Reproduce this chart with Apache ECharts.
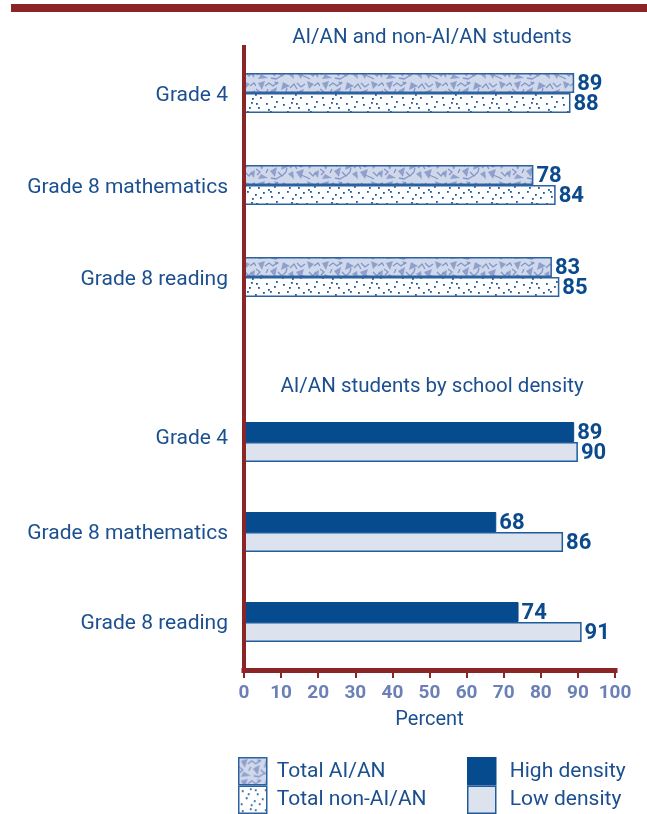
<!DOCTYPE html>
<html>
<head>
<meta charset="utf-8">
<script src="https://cdn.jsdelivr.net/npm/echarts@6/dist/echarts.min.js"></script>
<style>
  html, body { margin: 0; padding: 0; background: #fff; }
  #chart { width: 647px; height: 814px; }
</style>
</head>
<body>
<div id="chart"></div>
<script>
// ---- data ----
const categories = ['Grade 4', 'Grade 8 mathematics', 'Grade 8 reading'];
const totalAian = [89, 78, 83];
const totalNonAian = [88, 84, 85];
const highDensity = [89, 68, 74];
const lowDensity = [90, 86, 91];
const percentMin = 0;
const percentMax = 100;
const percentStep = 10;
const seriesNames = ['Total AI/AN', 'Total non-AI/AN', 'High density', 'Low density'];
const panelTitles = ['AI/AN and non-AI/AN students', 'AI/AN students by school density'];

// ---- styling ----
const FONT = 'Roboto';
const NAVY = '#0B4A8C';
const TEXT = '#1B4F8F';
const AXIS_RED = '#8B2527';
const TICK_TEXT = '#6B80B6';

// mottled light-blue texture
function makeMottle() {
  const c = document.createElement('canvas');
  c.width = 64; c.height = 20;
  const g = c.getContext('2d');
  g.fillStyle = '#D0D8EB';
  g.fillRect(0, 0, 64, 20);
  g.fillStyle = '#8EA0CC';
  g.strokeStyle = '#8396C6';
  g.lineWidth = 1.3;
  const blobs = [
    [[2,3],[9,1],[6,10]], [[14,11],[21,7],[19,17]], [[27,2],[34,6],[25,10]],
    [[40,12],[48,9],[45,19]], [[51,1],[58,4],[53,9]], [[5,14],[12,18],[2,19]],
    [[32,14],[37,11],[38,19]], [[58,13],[63,10],[62,18]], [[18,1],[23,3],[20,5]]
  ];
  blobs.forEach(p => {
    g.beginPath(); g.moveTo(p[0][0], p[0][1]);
    g.lineTo(p[1][0], p[1][1]); g.lineTo(p[2][0], p[2][1]); g.closePath(); g.fill();
  });
  const strokes = [
    [[9,6],[13,3],[17,6],[22,2]], [[22,12],[26,16],[30,12],[31,8]], [[41,3],[45,7],[49,4]],
    [[53,12],[57,16],[60,12]], [[0,9],[4,12],[1,15]], [[15,18],[20,19],[25,16]],
    [[34,8],[38,4],[41,9]], [[45,15],[50,17],[54,19]], [[10,13],[12,9]], [[58,6],[62,3],[64,6]]
  ];
  strokes.forEach(s => {
    g.beginPath(); g.moveTo(s[0][0], s[0][1]);
    for (let i = 1; i < s.length; i++) g.lineTo(s[i][0], s[i][1]);
    g.stroke();
  });
  return c;
}

// sparse navy dots on white
function makeDots() {
  const c = document.createElement('canvas');
  c.width = 40; c.height = 20;
  const g = c.getContext('2d');
  g.fillStyle = '#FFFFFF';
  g.fillRect(0, 0, 40, 20);
  g.fillStyle = '#1E5A9A';
  const dots = [[3,4],[11,2],[18,7],[26,3],[34,6],[7,11],[15,14],[23,12],[31,16],[38,12],
                [2,17],[12,18],[20,17],[28,9],[36,1],[9,7],[30,11],[16,3]];
  dots.forEach(d => g.fillRect(d[0], d[1], 1.8, 1.8));
  return c;
}

const mottle = { image: makeMottle(), repeat: 'repeat' };
const dots = { image: makeDots(), repeat: 'repeat' };

const valueLabel = {
  show: true,
  position: 'right',
  distance: 3,
  offset: [0, 1],
  fontFamily: FONT,
  fontSize: 22,
  fontWeight: 'bold',
  color: NAVY
};

// category label text with small per-row vertical nudges
const labelText = { fontFamily: FONT, fontSize: 21, color: TEXT };
const richLabels = {
  t:  Object.assign({ padding: [6, 0, 0, 0] }, labelText),
  b0: Object.assign({ padding: [0, 0, 7, 0] }, labelText),
  b1: Object.assign({ padding: [4, 0, 0, 0] }, labelText),
  b2: Object.assign({ padding: [3, 0, 0, 0] }, labelText)
};

const catAxisBase = {
  type: 'category',
  inverse: true,
  z: 3,
  axisLine: { show: true, lineStyle: { color: AXIS_RED, width: 4, cap: 'square' } },
  axisTick: { show: false }
};

const legendBase = {
  orient: 'vertical',
  top: 757,
  height: 60,
  padding: 0,
  itemWidth: 28, itemHeight: 27, itemGap: 0,
  icon: 'rect',
  itemStyle: { borderWidth: 1.5 },
  textStyle: { fontFamily: FONT, fontSize: 21, color: TEXT, lineHeight: 27 }
};

const chart = echarts.init(document.getElementById('chart'), null, { renderer: 'canvas' });
chart.setOption({
  animation: false,
  backgroundColor: '#fff',
  grid: [
    { left: 244, width: 371, top: 47, height: 368 },
    { left: 244, width: 371, top: 397, height: 270 }
  ],
  xAxis: [
    { gridIndex: 0, type: 'value', min: percentMin, max: percentMax, interval: percentStep, show: false },
    {
      gridIndex: 1, type: 'value', min: percentMin, max: percentMax, interval: percentStep,
      offset: 3,
      name: 'Percent', nameLocation: 'middle', nameGap: 40,
      nameTextStyle: { fontFamily: FONT, fontSize: 20, color: TEXT },
      axisLine: { show: true, lineStyle: { color: AXIS_RED, width: 5, cap: 'square' } },
      axisTick: { show: true, length: 8, lineStyle: { color: AXIS_RED, width: 2 } },
      axisLabel: { fontFamily: FONT, fontSize: 19, fontWeight: 'bold', color: TICK_TEXT, margin: 14 },
      splitLine: { show: false }
    }
  ],
  yAxis: [
    Object.assign({}, catAxisBase, {
      gridIndex: 0, data: categories.concat(['']),
      axisLabel: Object.assign({ margin: 16, rich: richLabels,
        formatter: v => (v ? '{t|' + v + '}' : '') }, labelText)
    }),
    Object.assign({}, catAxisBase, {
      gridIndex: 1, data: categories,
      axisLabel: Object.assign({ margin: 16, rich: richLabels,
        formatter: (v, i) => '{b' + i + '|' + v + '}' }, labelText)
    })
  ],
  legend: [
    Object.assign({}, legendBase, {
      data: [seriesNames[0], seriesNames[1]],
      left: 238,
      textStyle: Object.assign({}, legendBase.textStyle, { padding: [0, 0, 0, 5] })
    }),
    Object.assign({}, legendBase, {
      data: [seriesNames[2], seriesNames[3]],
      left: 467,
      textStyle: Object.assign({}, legendBase.textStyle, { padding: [0, 0, 0, 9] })
    })
  ],
  graphic: [
    { type: 'rect', shape: { x: 11, y: 4, width: 636, height: 8 }, style: { fill: AXIS_RED } },
    { type: 'text', x: 432, y: 38, style: { text: panelTitles[0], textAlign: 'center', textVerticalAlign: 'middle',
      fontFamily: FONT, fontSize: 20.5, fill: TEXT } },
    { type: 'text', x: 432, y: 387, style: { text: panelTitles[1], textAlign: 'center', textVerticalAlign: 'middle',
      fontFamily: FONT, fontSize: 20.5, fill: TEXT } }
  ],
  series: [
    {
      name: seriesNames[0], type: 'bar', xAxisIndex: 0, yAxisIndex: 0,
      data: totalAian, barWidth: 20, barGap: '0%',
      itemStyle: { color: mottle, borderColor: '#2D62A0', borderWidth: 1.5 },
      label: valueLabel
    },
    {
      name: seriesNames[1], type: 'bar', xAxisIndex: 0, yAxisIndex: 0,
      data: totalNonAian, barWidth: 20, barGap: '0%',
      itemStyle: { color: dots, borderColor: '#2D62A0', borderWidth: 1.5 },
      label: valueLabel
    },
    {
      name: seriesNames[2], type: 'bar', xAxisIndex: 1, yAxisIndex: 1,
      data: highDensity, barWidth: 20, barGap: '0%',
      itemStyle: { color: '#054B8E', borderColor: '#054B8E', borderWidth: 1 },
      label: valueLabel
    },
    {
      name: seriesNames[3], type: 'bar', xAxisIndex: 1, yAxisIndex: 1,
      data: lowDensity, barWidth: 20, barGap: '0%',
      itemStyle: { color: '#DCE2EE', borderColor: '#1F5C9C', borderWidth: 1.5 },
      label: valueLabel
    }
  ]
});
</script>
</body>
</html>
